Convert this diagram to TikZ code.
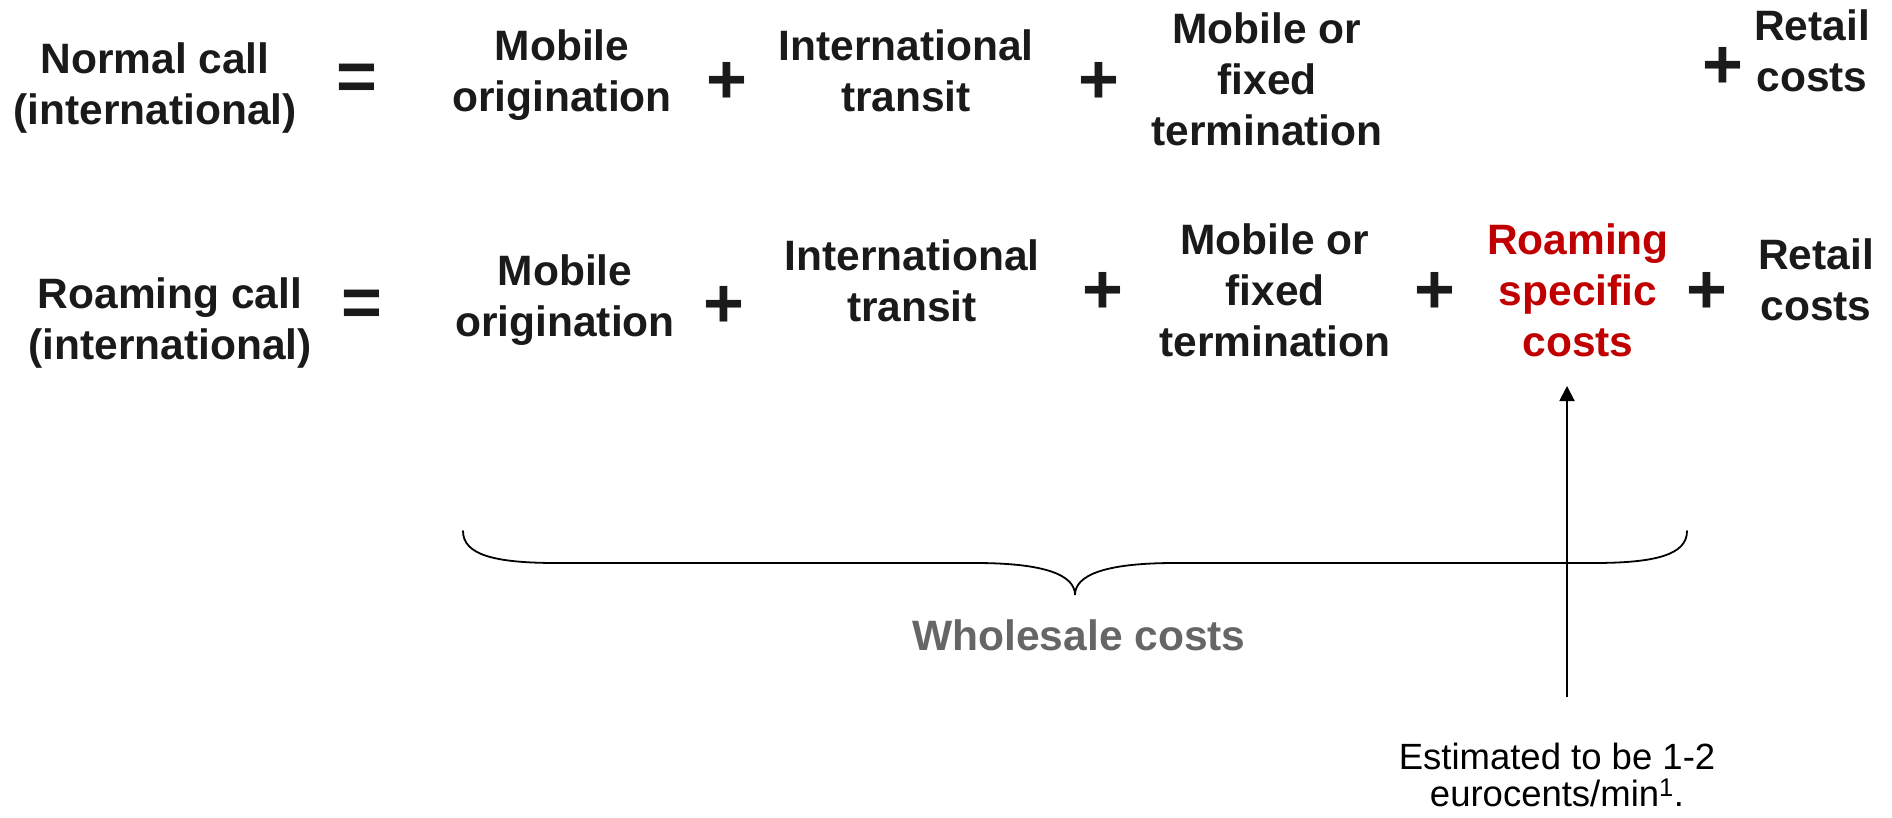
\documentclass[tikz,border=0pt]{standalone}
\usepackage{fontspec}
\setmainfont{Liberation Sans}
\usetikzlibrary{arrows.meta}
\definecolor{roamred}{HTML}{C00000}
\definecolor{wgrey}{HTML}{666666}
\definecolor{txt}{HTML}{1A1A1A}
\tikzset{
  term/.style={font=\fontsize{42.5}{51}\selectfont\bfseries, align=center, anchor=base, inner sep=0pt, text=txt},
  op/.style={font=\fontsize{70}{70}\selectfont\bfseries, anchor=base, inner sep=0pt, text=txt},
  note/.style={font=\fontsize{36.5}{37}\selectfont, align=center, anchor=base, inner sep=0pt, text=black},
  bracepath/.style={line width=1.8pt, line cap=round, draw=black},
  arrowline/.style={line width=2pt, -{Triangle[length=15pt,width=15pt]}},
}
\begin{document}
\begin{tikzpicture}[x=1pt,y=-1pt]
\useasboundingbox (0,0) rectangle (1892,817);
% Row 1 (anchor = baseline of last line)
\node[term] (n1) at (155,124) {Normal call\\(international)};
\node[op] (n1eq) at (357,100) {=};
\node[term] (n1mo) at (562,111) {Mobile\\origination};
\node[op] (n1p1) at (727,103) {+};
\node[term] (n1it) at (906,111) {International\\transit};
\node[op] (n1p2) at (1099,103) {+};
\node[term] (n1mt) at (1267,145) {Mobile or\\fixed\\termination};
\node[op] (n1p3) at (1723,88) {+};
\node[term] (n1rc) at (1812,91) {Retail\\costs};
% Row 2
\node[term] (n2) at (170,359) {Roaming call\\(international)};
\node[op] (n2eq) at (362,326) {=};
\node[term] (n2mo) at (565,336) {Mobile\\origination};
\node[op] (n2p1) at (724,327) {+};
\node[term] (n2it) at (912,321) {International\\transit};
\node[op] (n2p2) at (1103,313) {+};
\node[term] (n2mt) at (1275,356) {Mobile or\\fixed\\termination};
\node[op] (n2p3) at (1435,313) {+};
\node[term, text=roamred] (n2rs) at (1578,356) {Roaming\\specific\\costs};
\node[op] (n2p4) at (1707,313) {+};
\node[term] (n2rc) at (1816,320) {Retail\\costs};
% Brace
\draw[bracepath] (463,531) .. controls (463,555) and (495,563) .. (557,563)
  -- (975,563) .. controls (1045,563) and (1075,575) .. (1075,595)
  .. controls (1075,575) and (1105,563) .. (1175,563)
  -- (1593,563) .. controls (1655,563) and (1687,555) .. (1687,531);
\node[term, text=wgrey] (whole) at (1079,650) {Wholesale costs};
% Arrow
\coordinate (abase) at (1567,697);
\coordinate (atip) at (1567,386);
\draw[arrowline] (abase) -- (atip);
\node[note] (est) at (1557,806) {Estimated to be 1-2\\eurocents/min\textsuperscript{1}.};
\end{tikzpicture}
\end{document}
